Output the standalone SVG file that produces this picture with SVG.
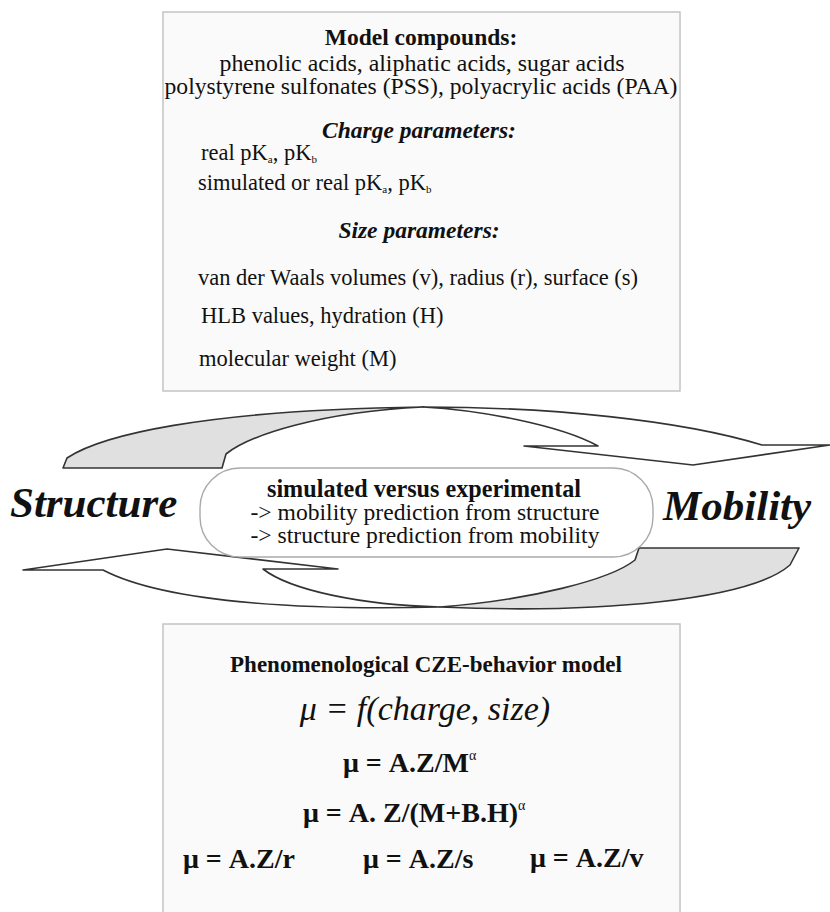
<svg xmlns="http://www.w3.org/2000/svg" width="830" height="912" viewBox="0 0 830 912">
<style>
text{font-family:"Liberation Serif","Times New Roman",serif;fill:#111}
.box{fill:#fafafa;stroke:#c4c4c4;stroke-width:1.5}
.b{font-weight:bold}
.bi{font-weight:bold;font-style:italic}
.it{font-style:italic}
.c{text-anchor:middle}
.arrow{stroke:#333;stroke-width:1.6;stroke-linejoin:round}
.gray{fill:#e0e0e0}
.white{fill:#fff}
.big{font-size:43px;font-weight:bold;font-style:italic}
</style>
<rect width="830" height="912" fill="#fff"/>

<g id="model-box">
<rect class="box" x="163" y="12" width="517" height="379"/>
<text class="b c" x="421" y="45" font-size="23.5">Model compounds:</text>
<text class="c" x="422" y="71" font-size="22.5" textLength="405" lengthAdjust="spacingAndGlyphs">phenolic acids, aliphatic acids, sugar acids</text>
<text class="c" x="421" y="94" font-size="22.5" textLength="513" lengthAdjust="spacingAndGlyphs">polystyrene sulfonates (PSS), polyacrylic acids (PAA)</text>
<text class="bi c" x="419" y="138" font-size="23.5">Charge parameters:</text>
<text x="201" y="160" font-size="22.5">real pK<tspan font-size="11" dy="3">a</tspan><tspan dy="-3">, pK</tspan><tspan font-size="11" dy="3">b</tspan></text>
<text x="198" y="190" font-size="22.5">simulated or real pK<tspan font-size="11" dy="3">a</tspan><tspan dy="-3">, pK</tspan><tspan font-size="11" dy="3">b</tspan></text>
<text class="bi c" x="419" y="238" font-size="23.5">Size parameters:</text>
<text x="198" y="285" font-size="22.5">van der Waals volumes (v), radius (r), surface (s)</text>
<text x="201" y="323" font-size="22.5">HLB values, hydration (H)</text>
<text x="199" y="366" font-size="22.5">molecular weight (M)</text>
</g>

<g id="connectors">
<path class="arrow gray" d="M63,468 L67,458 C100,436 200,410 423,407 C320,412 250,435 226,454 L222,468 Z"/>
<path class="arrow white" d="M423,407 C550,407 680,420 762,445 L830,445 L693,465 L524,446 L598,446 C560,425 480,410 423,407 Z"/>
<path class="arrow white" d="M440,607 C320,610 170,605 103,570 L23,570 L167,549 L338,569 L263,569 C290,590 360,605 440,607 Z"/>
<path class="arrow gray" d="M440,607 C600,614 750,600 790,565 L799,548 L639,548 L635,560 C610,580 530,600 440,607 Z"/>
</g>

<g id="center">
<rect x="200" y="468" width="453" height="89" rx="40" ry="40" fill="#fff" stroke="#aaa" stroke-width="1.4"/>
<text class="b c" x="424" y="497" font-size="25" textLength="314" lengthAdjust="spacingAndGlyphs">simulated versus experimental</text>
<text class="c" x="425" y="520" font-size="23" textLength="349" lengthAdjust="spacingAndGlyphs">-&gt; mobility prediction from structure</text>
<text class="c" x="425" y="543" font-size="23" textLength="349" lengthAdjust="spacingAndGlyphs">-&gt; structure prediction from mobility</text>
</g>

<g id="structure">
<text class="big" x="10" y="517">Structure</text>
</g>
<g id="mobility">
<text class="big" x="663" y="520">Mobility</text>
</g>

<g id="cze-box">
<rect class="box" x="163" y="624" width="517" height="300"/>
<text class="b c" x="426" y="672" font-size="23">Phenomenological CZE-behavior model</text>
<text class="it c" x="425" y="720" font-size="34">μ = f(charge, size)</text>
<text class="b" x="343" y="772" font-size="28">μ = A.Z/M<tspan font-size="14" font-weight="normal" dy="-12">α</tspan></text>
<text class="b" x="303" y="822" font-size="28">μ = A. Z/(M+B.H)<tspan font-size="14" font-weight="normal" dy="-12">α</tspan></text>
<text class="b" x="183" y="868" font-size="28">μ = A.Z/r</text>
<text class="b" x="363" y="868" font-size="28">μ = A.Z/s</text>
<text class="b" x="530" y="867" font-size="28">μ = A.Z/v</text>
</g>
</svg>
